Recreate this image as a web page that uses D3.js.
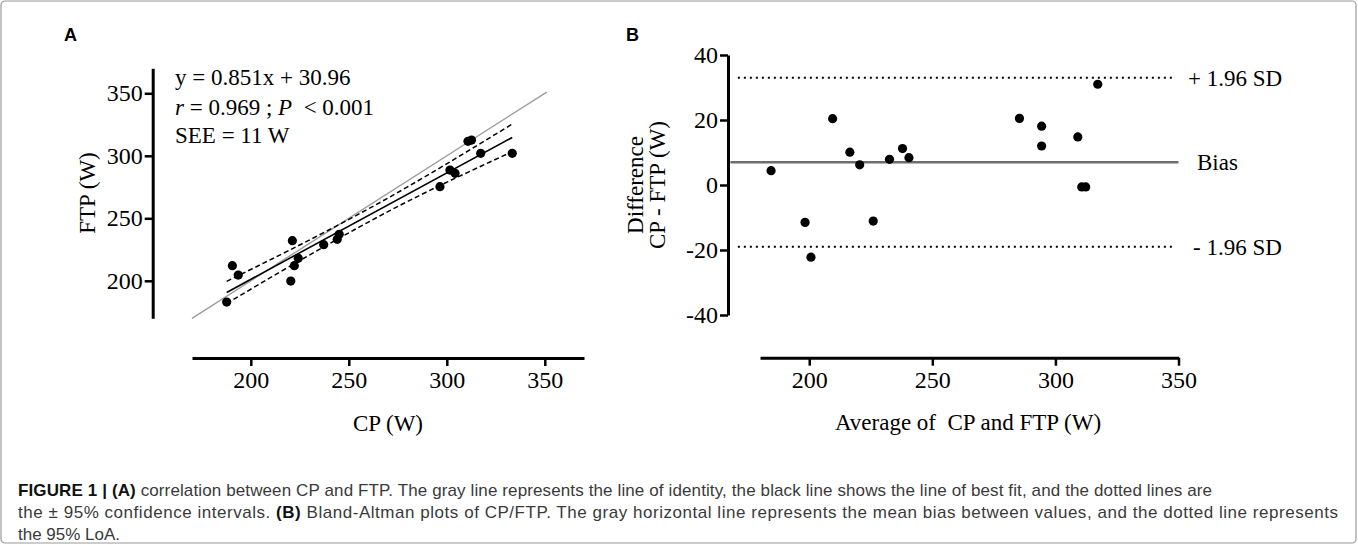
<!DOCTYPE html>
<html>
<head>
<meta charset="utf-8">
<script src="https://cdn.jsdelivr.net/npm/d3@7"></script>
<style>
  body { margin: 0; background: #fff; }
  svg { display: block; }
  .ax text { font-family: "Liberation Serif", serif; font-size: 24px; fill: #000; }
  .ax path { stroke: #000; stroke-width: 3; }
  .ax line { stroke: #000; stroke-width: 2.5; }
  .serif { font-family: "Liberation Serif", serif; font-size: 23px; fill: #000; white-space: pre; }
</style>
</head>
<body>
<svg id="fig" width="1358" height="545"></svg>
<script>
// Panel A: CP and FTP per subject (W)
var cpValues  = [187.7, 190.6, 193.6, 220.4, 221.2, 222.2, 224.2, 237.2, 244.1, 245.1, 296.5, 301.6, 304.2, 310.8, 312.6, 317.3, 333.4];
var ftpValues = [183.0, 212.1, 204.6, 199.8, 232.1, 212.1, 218.0, 228.9, 233.2, 237.2, 275.3, 288.6, 286.0, 311.6, 312.6, 302.0, 302.0];

// Panel B: Bland-Altman, average vs difference
var avgValues  = [184.5, 198.3, 200.7, 209.5, 216.5, 220.5, 226.0, 232.6, 237.9, 240.5, 285.4, 294.4, 294.4, 309.1, 310.7, 312.3, 317.2];
var diffValues = [4.4, -11.5, -22.2, 20.4, 10.1, 6.2, -11.1, 7.9, 11.2, 8.4, 20.5, 18.1, 12.0, 14.8, -0.6, -0.6, 31.0];

// best fit line (from the annotation) and identity line
var fitSlope = 0.851, fitIntercept = 30.96;
var fitRange = [187.7, 333.4];
var identityRange = [170, 351];

// 95% confidence band
var bandX     = [187.7, 220, 255, 290, 333.4];
var bandUpper = [199.6, 224.7, 253.3, 284.3, 325.4];
var bandLower = [181.8, 211.7, 242.7, 271.3, 303.3];

// bias and limits of agreement
var biasValue = 7.0, loaUpper = 33.0, loaLower = -19.0;
var biasRange = [168, 350];
var loaRange  = [171, 348.6];

var ticksA  = [200, 250, 300, 350];
var ticksBx = [200, 250, 300, 350];
var ticksBy = [-40, -20, 0, 20, 40];

var captionLines = [
  [["FIGURE 1 | (A)", true], [" correlation between CP and FTP. The gray line represents the line of identity, the black line shows the line of best fit, and the dotted lines are", false]],
  [["the \u00b1 95% confidence intervals. ", false], ["(B)", true], [" Bland-Altman plots of CP/FTP. The gray horizontal line represents the mean bias between values, and the dotted line represents", false]],
  [["the 95% LoA.", false]]
];
var captionWidths = [1194, 1320, null];

// plain hyphen for negatives, like the original
var plain = function(d) { return String(d); };

var svg = d3.select("#fig");

// frame round the figure
svg.append("rect")
  .attr("x", 1).attr("y", 1)
  .attr("width", 1355).attr("height", 542)
  .attr("rx", 4)
  .attr("fill", "none")
  .attr("stroke", "#9a9a9a")
  .attr("stroke-width", 1.2);

// ---------- Panel A ----------
var xA = d3.scaleLinear().domain([170, 370]).range([192, 584]);
var yA = d3.scaleLinear().domain([170, 370]).range([318.3, 68.3]);

svg.append("g")
  .attr("class", "ax")
  .attr("transform", "translate(152.7,0)")
  .call(d3.axisLeft(yA).tickValues(ticksA).tickFormat(plain).tickSize(8).tickSizeOuter(0).tickPadding(2));

svg.append("g")
  .attr("class", "ax")
  .attr("transform", "translate(0,358)")
  .call(d3.axisBottom(xA).tickValues(ticksA).tickFormat(plain).tickSize(8).tickSizeOuter(0).tickPadding(5));

// identity line
svg.append("line")
  .attr("x1", xA(identityRange[0])).attr("y1", yA(identityRange[0]))
  .attr("x2", xA(identityRange[1])).attr("y2", yA(identityRange[1]))
  .attr("stroke", "#9c9c9c")
  .attr("stroke-width", 1.4);

// confidence band
var band = d3.line()
  .x(function(d) { return xA(d[0]); })
  .y(function(d) { return yA(d[1]); })
  .curve(d3.curveNatural);

[bandUpper, bandLower].forEach(function(arr) {
  svg.append("path")
    .attr("d", band(bandX.map(function(x, i) { return [x, arr[i]]; })))
    .attr("fill", "none")
    .attr("stroke", "#000")
    .attr("stroke-width", 1.5)
    .attr("stroke-dasharray", "5,3");
});

// best fit
svg.append("line")
  .attr("x1", xA(fitRange[0])).attr("y1", yA(fitSlope * fitRange[0] + fitIntercept))
  .attr("x2", xA(fitRange[1])).attr("y2", yA(fitSlope * fitRange[1] + fitIntercept))
  .attr("stroke", "#000")
  .attr("stroke-width", 1.6);

svg.append("g").selectAll("circle")
  .data(cpValues)
  .enter().append("circle")
  .attr("cx", function(d) { return xA(d); })
  .attr("cy", function(d, i) { return yA(ftpValues[i]); })
  .attr("r", 4.6)
  .attr("fill", "#000");

// annotation
var note = svg.append("g").attr("class", "serif");
note.append("text").attr("x", 175).attr("y", 85).text("y = 0.851x + 30.96");
var t2 = note.append("text").attr("x", 175).attr("y", 115).style("white-space", "pre");
t2.append("tspan").attr("font-style", "italic").text("r");
t2.append("tspan").text(" = 0.969 ; ");
t2.append("tspan").attr("font-style", "italic").text("P");
t2.append("tspan").text("  < 0.001");
note.append("text").attr("x", 175).attr("y", 143).text("SEE = 11 W");

// axis titles
svg.append("text")
  .attr("class", "serif")
  .attr("transform", "translate(95,193) rotate(-90)")
  .attr("text-anchor", "middle")
  .text("FTP (W)");

svg.append("text")
  .attr("class", "serif")
  .attr("x", 388).attr("y", 431)
  .attr("text-anchor", "middle")
  .text("CP (W)");

// ---------- Panel B ----------
var xB = d3.scaleLinear().domain([180, 350]).range([760, 1178.5]);
var yB = d3.scaleLinear().domain([-40, 40]).range([315, 55]);

svg.append("g")
  .attr("class", "ax")
  .attr("transform", "translate(728,0)")
  .call(d3.axisLeft(yB).tickValues(ticksBy).tickFormat(plain).tickSize(8).tickSizeOuter(0).tickPadding(2));

svg.append("g")
  .attr("class", "ax")
  .attr("transform", "translate(0,357.7)")
  .call(d3.axisBottom(xB).tickValues(ticksBx).tickFormat(plain).tickSize(8).tickSizeOuter(0).tickPadding(5));

// bias line
svg.append("line")
  .attr("x1", xB(biasRange[0])).attr("x2", xB(biasRange[1]))
  .attr("y1", yB(biasValue)).attr("y2", yB(biasValue))
  .attr("stroke", "#6e6e6e")
  .attr("stroke-width", 2.6);

// limits of agreement
[loaUpper, loaLower].forEach(function(v) {
  svg.append("line")
    .attr("x1", xB(loaRange[0])).attr("x2", xB(loaRange[1]))
    .attr("y1", yB(v)).attr("y2", yB(v))
    .attr("stroke", "#000")
    .attr("stroke-width", 2.2)
    .attr("stroke-dasharray", "2,4");
});

svg.append("g").selectAll("circle")
  .data(avgValues)
  .enter().append("circle")
  .attr("cx", function(d) { return xB(d); })
  .attr("cy", function(d, i) { return yB(diffValues[i]); })
  .attr("r", 4.6)
  .attr("fill", "#000");

svg.append("text").attr("class", "serif").attr("x", 1188).attr("y", yB(loaUpper) + 8).text("+ 1.96 SD");
svg.append("text").attr("class", "serif").attr("x", 1197).attr("y", yB(biasValue) + 8).text("Bias");
svg.append("text").attr("class", "serif").attr("x", 1193).attr("y", yB(loaLower) + 8).text("- 1.96 SD");

var yTitle = svg.append("text")
  .attr("class", "serif")
  .attr("text-anchor", "middle")
  .attr("transform", "translate(643,185) rotate(-90)");
yTitle.append("tspan").attr("x", 0).attr("y", 0).text("Difference");
yTitle.append("tspan").attr("x", 0).attr("y", 22).text("CP - FTP (W)");

svg.append("text")
  .attr("class", "serif")
  .attr("x", 968).attr("y", 430)
  .attr("text-anchor", "middle")
  .text("Average of  CP and FTP (W)");

// panel letters
svg.append("text").attr("x", 64).attr("y", 41)
  .attr("font-family", "Liberation Sans, Arial, sans-serif")
  .attr("font-weight", "bold").attr("font-size", 18).text("A");
svg.append("text").attr("x", 626).attr("y", 41)
  .attr("font-family", "Liberation Sans, Arial, sans-serif")
  .attr("font-weight", "bold").attr("font-size", 18).text("B");

// ---------- caption ----------
var cap = svg.append("g")
  .attr("font-family", "Liberation Sans, Arial, sans-serif")
  .attr("font-size", 17);

captionLines.forEach(function(parts, i) {
  var t = cap.append("text").attr("x", 18).attr("y", 496 + i * 22);
  if (captionWidths[i]) t.attr("textLength", captionWidths[i]);
  parts.forEach(function(p) {
    t.append("tspan")
      .attr("font-weight", p[1] ? "bold" : "normal")
      .attr("fill", p[1] ? "#111" : "#3a3a3a")
      .text(p[0]);
  });
});
</script>
</body>
</html>
